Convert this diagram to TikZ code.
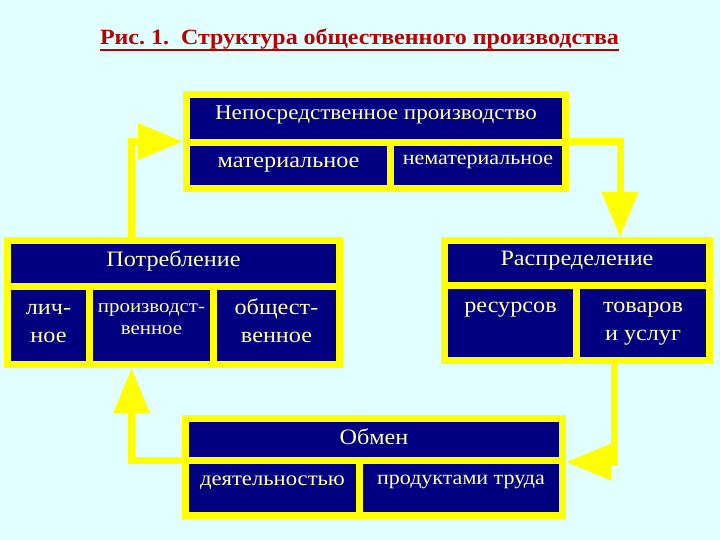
\documentclass[tikz,border=0pt]{standalone}
\usepackage{fontspec}
\setmainfont{Liberation Serif}[FakeStretch=1.1]
\usetikzlibrary{arrows.meta}
\usetikzlibrary{positioning}
\definecolor{bgcyan}{RGB}{225,255,255}
\definecolor{boxnavy}{RGB}{0,0,128}
\definecolor{boxyellow}{RGB}{255,255,0}
\definecolor{textyellow}{RGB}{255,255,175}
\definecolor{titlered}{RGB}{185,0,0}
\newsavebox{\titlebox}
\newcommand{\titleline}[1]{\sbox{\titlebox}{#1}\rlap{\rule[-6.5pt]{\wd\titlebox}{2pt}}\usebox{\titlebox}}

\begin{document}
\begin{tikzpicture}[
    x=1pt, y=-1pt
]
\tikzset{
    myframe/.style = {rectangle, fill=boxyellow, inner sep=0pt, outer sep=0pt, anchor=north west},
    mycell/.style = {rectangle, fill=boxnavy, text=textyellow, align=center, inner sep=0pt,
        outer sep=0pt, anchor=north west, font=\fontsize{22}{28}\selectfont},
    mysmall/.style = {font=\fontsize{20}{22}\selectfont},
    myarrow/.style = {-{Triangle[length=45pt,width=35pt]}, line width=7pt, draw=boxyellow}
}
\fill[bgcyan] (0,0) rectangle (720,540);
\useasboundingbox (0,0) rectangle (720,540);
\node[anchor=base, text=titlered, font=\bfseries\fontsize{21.8}{25}\selectfont] at (359.5,45) (title)
    {\titleline{Рис.~1.~~Структура общественного производства}};
\node[myframe, minimum width=386pt, minimum height=101pt] at (183,91)  (nepframe) {};
\node[myframe, minimum width=339pt, minimum height=131pt] at (4,237)   (potrframe) {};
\node[myframe, minimum width=272pt, minimum height=127pt] at (441,237) (raspframe) {};
\node[myframe, minimum width=384pt, minimum height=104pt] at (182,415) (obmframe) {};
\node[mycell, font=\fontsize{21}{28}\selectfont, minimum width=372pt, text height=22pt, text depth=19pt] at (190,98) (nep) {Непосредственное производство};
\node[mycell, minimum width=197pt, text height=22pt, text depth=17pt] at (190,146) (mat) {материальное};
\node[mycell, mysmall, minimum width=168pt, text height=19pt, text depth=20pt] at (394,146) (nemat) {нематериальное};
\node[mycell, minimum width=325pt, text height=22pt, text depth=17pt] at (11,244)  (potr) {Потребление};
\node[mycell, minimum width=75pt,  text height=52pt, text depth=19pt] at (11,290)  (lich) {лич-\\ное};
\node[mycell, mysmall, font=\fontsize{19}{22}\selectfont, minimum width=117pt, text height=44pt, text depth=27pt] at (93,290) (proizv) {производст-\\венное};
\node[mycell, minimum width=119pt, text height=52pt, text depth=19pt] at (217,290) (obsch) {общест-\\венное};
\node[mycell, minimum width=258pt, text height=21pt, text depth=17pt] at (448,244) (rasp) {Распределение};
\node[mycell, minimum width=125pt, text height=23pt, text depth=45pt] at (448,289) (res) {ресурсов};
\node[mycell, minimum width=126pt, text height=51pt, text depth=17pt] at (580,289) (tov) {товаров\\и услуг};
\node[mycell, minimum width=370pt, text height=22pt, text depth=13pt] at (189,422) (obm) {Обмен};
\node[mycell, font=\fontsize{20.6}{28}\selectfont, minimum width=167pt, text height=21pt, text depth=27pt] at (189,464) (deyat) {деятельностью};
\node[mycell, mysmall, minimum width=196pt, text height=20pt, text depth=28pt] at (363,464) (prod) {продуктами труда};
\draw[myarrow] ([xshift=-42pt]potrframe.north) |- (nepframe.west);
\draw[myarrow] (nepframe.east) -| ([xshift=43pt]raspframe.north);
\draw[myarrow] ([xshift=37pt]raspframe.south) |- ([yshift=5pt]obmframe.east);
\draw[myarrow] ([yshift=7pt]obmframe.west) -| ([xshift=-42pt]potrframe.south);
\end{tikzpicture}
\end{document}
